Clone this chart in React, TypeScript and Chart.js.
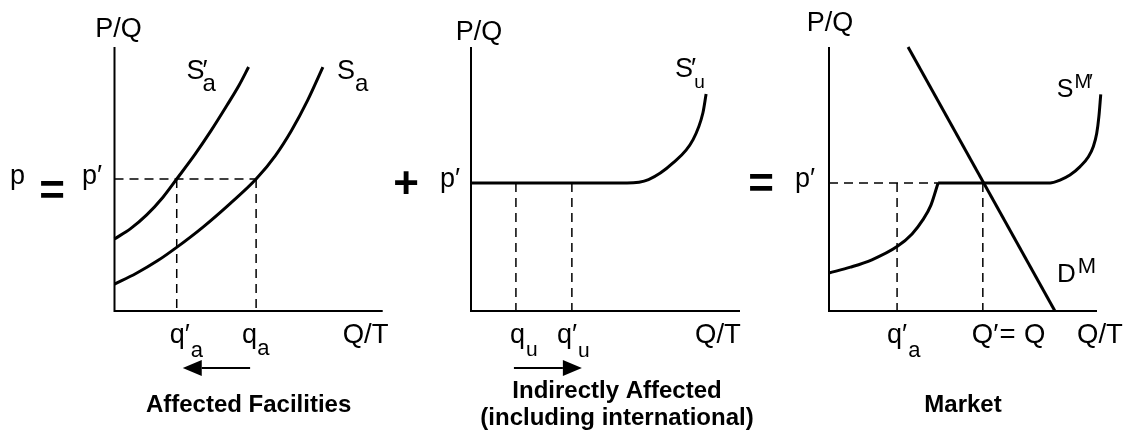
import React, { useEffect, useRef } from 'react';
import { Chart, registerables } from 'chart.js';

Chart.register(...registerables);

const FONT = '"Liberation Sans", Arial, Helvetica, sans-serif';
const WIDTH = 1130;
const HEIGHT = 437;
const BASE = 27;

// ---------- Data (quantity 0..100 along each x axis, price 0..100 along each y axis) ----------
// Panel 1: affected facilities
const affShiftedSupplyQ = [0, 6, 12, 18, 23.2, 30, 36, 42, 46.5, 50];
const affShiftedSupplyP = [27.3, 31.2, 36.4, 43.0, 50, 59.3, 68.3, 78, 85.6, 92.4];
const affSupplyQ = [0, 8, 16, 23.3, 33, 43, 52.8, 60, 66, 72, 77.7];
const affSupplyP = [10.2, 14.2, 19.0, 24.2, 31.8, 40.6, 50, 58.9, 68.4, 79.8, 92.4];
const affPrice = 50;
const affQtyShifted = 23.2;
const affQty = 52.8;

// Panel 2: indirectly affected
const indSupplyQ = [0, 58, 66, 75, 82.5, 86.2, 87.4];
const indSupplyP = [48.5, 48.5, 49.8, 56, 64.8, 75, 82.2];
const indPrice = 48.5;
const indQty = 16.7;
const indQtyShifted = 37.5;

// Panel 3: market
const mktLowSupplyQ = [0, 8, 16, 25.4, 31, 35, 38, 40.7];
const mktLowSupplyP = [14.4, 16.6, 19.4, 24.4, 29.2, 34.5, 40, 48.5];
const mktHighSupplyQ = [40.7, 82.5, 86.2, 89.9, 93.7, 96.8, 98.6, 99.9, 100.7, 101.4];
const mktHighSupplyP = [48.5, 48.5, 49.6, 51.5, 54.7, 58.4, 62.2, 67.3, 73.6, 82.1];
const mktDemandQ = [29.5, 84.3];
const mktDemandP = [100, 0];
const mktPrice = 48.5;
const mktQtyAffected = 25.4;
const mktQty = 57.4;

// Text
const priceAxisLabel = 'P/Q';
const qtyAxisLabel = 'Q/T';
const titleAffected = 'Affected Facilities';
const titleIndirect = ['Indirectly Affected', '(including international)'];
const titleMarket = 'Market';
const PR = '\u2032';

// ---------- helpers ----------
type Part = { t: string; size?: number; dy?: number; dx?: number; adv?: boolean; bold?: boolean };
const N = (t: string, size = BASE, dx = 0): Part => ({ t, size, dx });
const B = (t: string, size = 24): Part => ({ t, size, bold: true });
const SUB = (t: string, size = 22, dy = 13, dx = 0): Part => ({ t, size, dy, dx });
const SUP = (t: string, size = 20, dy = -9, dx = 0): Part => ({ t, size, dy, dx });
const PRIME = (size = BASE, dx = 0, adv = true, dy = 0): Part => ({ t: PR, size, dx, adv, dy });

type Label = { at: [number, number]; dx: number; dy: number; parts: Part[]; align?: 'left' | 'center' };
type Arrow = { from: [number, number]; fromDx: number; to: [number, number]; toDx: number; dy: number };

const pts = (xs: number[], ys: number[]) => xs.map((x, i) => ({ x, y: ys[i] }));

const curve = (data: any[], width = 3) => ({
  data, borderColor: '#000', borderWidth: width, pointRadius: 0,
  cubicInterpolationMode: 'monotone', tension: 0.4, clip: false, fill: false,
});
const straight = (data: any[], width = 3) => ({
  data, borderColor: '#000', borderWidth: width, pointRadius: 0, tension: 0, clip: false, fill: false,
  borderJoinStyle: 'miter', borderCapStyle: 'butt',
});
const dashed = (data: any[]) => ({
  data, borderColor: '#000', borderWidth: 1.5, borderDash: [9, 6], pointRadius: 0, tension: 0, clip: false, fill: false,
});
const axes = () => straight([{ x: 0, y: 100 }, { x: 0, y: 0 }, { x: 100, y: 0 }], 2);

function drawRich(ctx: CanvasRenderingContext2D, x: number, y: number, parts: Part[], align: 'left' | 'center' = 'left') {
  const font = (p: Part) => `${p.bold ? 'bold ' : ''}${p.size ?? BASE}px ${FONT}`;
  let total = 0;
  const ws = parts.map((p) => {
    ctx.font = font(p);
    const w = ctx.measureText(p.t).width;
    total += (p.dx ?? 0) + (p.adv === false ? 0 : w);
    return w;
  });
  let cx = align === 'center' ? x - total / 2 : x;
  ctx.textAlign = 'left';
  ctx.textBaseline = 'alphabetic';
  parts.forEach((p, i) => {
    ctx.font = font(p);
    cx += p.dx ?? 0;
    ctx.fillText(p.t, cx, y + (p.dy ?? 0));
    if (p.adv !== false) cx += ws[i];
  });
}

type PanelCfg = {
  // pixel box of the drawn axes (x 0..100, y 0..100)
  box: { left: number; right: number; top: number; bottom: number };
  xMax: number; // scale extends past the drawn axis so curves running beyond it are kept
  datasets: any[];
  labels: Label[];
  arrows: Arrow[];
};

const panels: PanelCfg[] = [
  {
    box: { left: 114.5, right: 382.7, top: 47, bottom: 311 },
    xMax: 105,
    datasets: [
      axes(),
      dashed([{ x: 0, y: affPrice }, { x: affQty, y: affPrice }]),
      dashed([{ x: affQtyShifted, y: affPrice }, { x: affQtyShifted, y: 0 }]),
      dashed([{ x: affQty, y: affPrice }, { x: affQty, y: 0 }]),
      curve(pts(affShiftedSupplyQ, affShiftedSupplyP)),
      curve(pts(affSupplyQ, affSupplyP)),
    ],
    labels: [
      { at: [0, 100], dx: 4, dy: -10, parts: [N(priceAxisLabel)], align: 'center' },
      { at: [50, 92.4], dx: -62, dy: 12, parts: [N('S'), PRIME(BASE, -2, false), SUB('a', 24, 12)] },
      { at: [77.7, 92.4], dx: 14, dy: 12, parts: [N('S'), SUB('a', 24, 12)] },
      { at: [0, affPrice], dx: -104.5, dy: 5, parts: [N('p')] },
      { at: [0, affPrice], dx: -62.5, dy: 26, parts: [B('=', 44)], align: 'center' },
      { at: [0, affPrice], dx: -32.5, dy: 5, parts: [N('p'), PRIME()] },
      { at: [affQtyShifted, 0], dx: -7, dy: 32, parts: [N('q'), PRIME(), SUB('a', 22, 14, 1)] },
      { at: [affQty, 0], dx: -14, dy: 32, parts: [N('q'), SUB('a', 22, 12)] },
      { at: [100, 0], dx: -40, dy: 32, parts: [N(qtyAxisLabel, 27.5)] },
      { at: [50, 0], dx: 0, dy: 101, parts: [B(titleAffected)], align: 'center' },
    ],
    arrows: [{ from: [affQty, 0], fromDx: -6, to: [affQtyShifted, 0], toDx: 6, dy: 57 }],
  },
  {
    box: { left: 471, right: 740, top: 47, bottom: 311 },
    xMax: 105,
    datasets: [
      axes(),
      dashed([{ x: indQty, y: indPrice }, { x: indQty, y: 0 }]),
      dashed([{ x: indQtyShifted, y: indPrice }, { x: indQtyShifted, y: 0 }]),
      curve(pts(indSupplyQ, indSupplyP)),
    ],
    labels: [
      { at: [0, 100], dx: 8, dy: -7, parts: [N(priceAxisLabel)], align: 'center' },
      { at: [0, indPrice], dx: -65, dy: 15, parts: [B('+', 44)], align: 'center' },
      { at: [0, indPrice], dx: -31, dy: 4, parts: [N('p'), PRIME()] },
      { at: [87.4, 82.2], dx: -31, dy: -17, parts: [N('S'), PRIME(BASE, -2), SUB('u', 19, 11, -2)] },
      { at: [indQty, 0], dx: -6, dy: 32, parts: [N('q'), SUB('u', 21, 13, 1)] },
      { at: [indQtyShifted, 0], dx: -15, dy: 32, parts: [N('q'), PRIME(), SUB('u', 21, 14, 1)] },
      { at: [100, 0], dx: -45, dy: 32, parts: [N(qtyAxisLabel, 27.5)] },
      { at: [50, 0], dx: 11.5, dy: 87, parts: [B(titleIndirect[0])], align: 'center' },
      { at: [50, 0], dx: 11.5, dy: 114, parts: [B(titleIndirect[1])], align: 'center' },
    ],
    arrows: [{ from: [indQty, 0], fromDx: -2, to: [indQtyShifted, 0], toDx: 10, dy: 57 }],
  },
  {
    box: { left: 829, right: 1097, top: 47, bottom: 311 },
    xMax: 105,
    datasets: [
      axes(),
      dashed([{ x: 0, y: mktPrice }, { x: mktLowSupplyQ[mktLowSupplyQ.length - 1], y: mktPrice }]),
      dashed([{ x: mktQtyAffected, y: mktPrice }, { x: mktQtyAffected, y: 0 }]),
      dashed([{ x: mktQty, y: mktPrice }, { x: mktQty, y: 0 }]),
      curve(pts(mktLowSupplyQ, mktLowSupplyP)),
      curve(pts(mktHighSupplyQ, mktHighSupplyP)),
      straight(pts(mktDemandQ, mktDemandP)),
    ],
    labels: [
      { at: [0, 100], dx: 1, dy: -16, parts: [N(priceAxisLabel)], align: 'center' },
      { at: [0, mktPrice], dx: -68, dy: 15, parts: [B('=', 44)], align: 'center' },
      { at: [0, mktPrice], dx: -34, dy: 4, parts: [N('p'), PRIME()] },
      { at: [101.4, 82.1], dx: -44, dy: 3, parts: [N('S', 25), SUP('M', 20, -9, 1), PRIME(20, -2, true, -9)] },
      { at: [84.3, 0], dx: 2, dy: -29, parts: [N('D', 26), SUP('M', 22, -9, 2)] },
      { at: [mktQtyAffected, 0], dx: -10, dy: 32, parts: [N('q'), PRIME(), SUB('a', 22, 14, 1)] },
      { at: [mktQty, 0], dx: -11, dy: 32, parts: [N('Q', 27.5), PRIME(27.5), N('=', 27.5, 1), N(' Q', 27.5, 1)] },
      { at: [100, 0], dx: -20, dy: 32, parts: [N(qtyAxisLabel, 27.5)] },
      { at: [50, 0], dx: 0, dy: 101, parts: [B(titleMarket)], align: 'center' },
    ],
    arrows: [],
  },
];

function PanelChart({ cfg }: { cfg: PanelCfg }) {
  const ref = useRef<HTMLCanvasElement>(null);
  useEffect(() => {
    if (!ref.current) return;
    const annot = {
      id: 'annot',
      afterDatasetsDraw(chart: any) {
        const ctx: CanvasRenderingContext2D = chart.ctx;
        const sx = chart.scales.x;
        const sy = chart.scales.y;
        ctx.save();
        ctx.fillStyle = '#000';
        ctx.strokeStyle = '#000';
        cfg.arrows.forEach((a) => {
          const x1 = sx.getPixelForValue(a.from[0]) + a.fromDx;
          const x2 = sx.getPixelForValue(a.to[0]) + a.toDx;
          const y = sy.getPixelForValue(a.from[1]) + a.dy;
          const dir = Math.sign(x2 - x1);
          const headLen = 19;
          ctx.lineWidth = 2;
          ctx.beginPath();
          ctx.moveTo(x1, y);
          ctx.lineTo(x2 - dir * headLen, y);
          ctx.stroke();
          ctx.beginPath();
          ctx.moveTo(x2, y);
          ctx.lineTo(x2 - dir * headLen, y - 8);
          ctx.lineTo(x2 - dir * headLen, y + 8);
          ctx.closePath();
          ctx.fill();
        });
        cfg.labels.forEach((l) => {
          const x = sx.getPixelForValue(l.at[0]) + l.dx;
          const y = sy.getPixelForValue(l.at[1]) + l.dy;
          drawRich(ctx, x, y, l.parts, l.align ?? 'left');
        });
        ctx.restore();
      },
    };
    const unitPx = (cfg.box.right - cfg.box.left) / 100;
    const scaleRight = cfg.box.left + unitPx * cfg.xMax;
    const chart = new Chart(ref.current, {
      type: 'line',
      data: { datasets: cfg.datasets },
      options: {
        animation: false,
        responsive: false,
        devicePixelRatio: 1,
        events: [],
        layout: {
          padding: {
            left: cfg.box.left,
            right: WIDTH - scaleRight,
            top: cfg.box.top,
            bottom: HEIGHT - cfg.box.bottom,
          },
        },
        scales: {
          x: { type: 'linear', min: 0, max: cfg.xMax, display: false },
          y: { type: 'linear', min: 0, max: 100, display: false },
        },
        plugins: { legend: { display: false }, tooltip: { enabled: false } },
      } as any,
      plugins: [annot],
    });
    return () => chart.destroy();
  }, [cfg]);
  return (
    <canvas
      ref={ref}
      width={WIDTH}
      height={HEIGHT}
      style={{ position: 'absolute', left: 0, top: 0, width: WIDTH, height: HEIGHT }}
    />
  );
}

export default function App() {
  return (
    <div style={{ position: 'absolute', left: 0, top: 0, width: WIDTH, height: HEIGHT, background: '#fff', overflow: 'hidden' }}>
      {panels.map((p, i) => (
        <PanelChart key={i} cfg={p} />
      ))}
    </div>
  );
}
